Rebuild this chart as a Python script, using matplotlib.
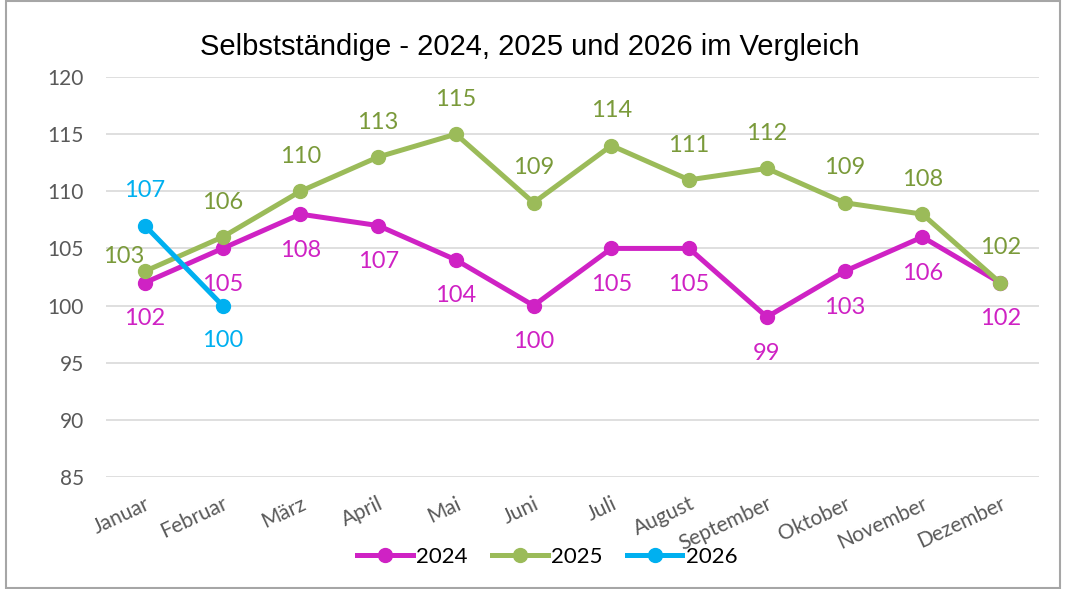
import matplotlib.pyplot as plt
import numpy as np

months = ["Januar", "Februar", "März", "April", "Mai", "Juni", "Juli",
          "August", "September", "Oktober", "November", "Dezember"]
v2024 = [102, 105, 108, 107, 104, 100, 105, 105, 99, 103, 106, 102]
v2025 = [103, 106, 110, 113, 115, 109, 114, 111, 112, 109, 108, 102]
v2026 = [107, 100]

c2024 = "#CF22C4"
c2025 = "#9BBB59"
c2026 = "#00B0F0"
lab2025 = "#7A9A3A"

plt.rcParams['font.family'] = ['Lato', 'DejaVu Sans']

fig = plt.figure(figsize=(10.73, 5.89), dpi=100)
ax = fig.add_axes([106 / 1073, 1 - 477 / 589, 933 / 1073, 400 / 589])

x = np.arange(len(months))
ax.plot(x, v2024, color=c2024, lw=3.6, marker='o', ms=10, label="2024", zorder=3)
ax.plot(x, v2025, color=c2025, lw=3.6, marker='o', ms=10, label="2025", zorder=3)
ax.plot(x[:len(v2026)], v2026, color=c2026, lw=3.6, marker='o', ms=10, label="2026", zorder=4)

fs = 17
for i, v in enumerate(v2024):
    ax.annotate(str(v), (i, v), xytext=(0, -26), textcoords='offset points',
                ha='center', va='center', color=c2024, fontsize=fs)
for i, v in enumerate(v2025):
    if i == 0:
        ax.annotate(str(v), (i, v), xytext=(-15, 11), textcoords='offset points',
                    ha='center', va='center', color=lab2025, fontsize=fs)
    else:
        ax.annotate(str(v), (i, v), xytext=(0, 25), textcoords='offset points',
                    ha='center', va='center', color=lab2025, fontsize=fs)
offs = [25, -25]
for i, v in enumerate(v2026):
    ax.annotate(str(v), (i, v), xytext=(0, offs[i]), textcoords='offset points',
                ha='center', va='center', color=c2026, fontsize=fs)

ax.set_xlim(-0.5, len(months) - 0.5)
ax.set_ylim(85, 120)
ax.set_yticks(range(85, 121, 5))
ax.set_xticks(x)
ax.set_xticklabels(months, rotation=25, ha='right', rotation_mode='anchor')
ax.tick_params(axis='both', length=0, colors='#595959', labelsize=15)
ax.tick_params(axis='x', pad=12)
ax.tick_params(axis='y', pad=16)
ax.grid(axis='y', color='#D9D9D9', lw=1.2)
ax.set_axisbelow(True)
for s in ax.spines.values():
    s.set_visible(False)

fig.text(0.494, 1 - 47 / 589, "Selbstständige - 2024, 2025 und 2026 im Vergleich",
         ha='center', va='center', fontsize=21, family='Liberation Sans')

fig.legend(loc='center', bbox_to_anchor=(0.51, 1 - 557 / 589), ncol=3, frameon=False,
           fontsize=16, handlelength=2.5, columnspacing=1.1, handletextpad=0.15)

fig.patches.append(plt.Rectangle((0.006, 0.002), 0.982, 0.996, transform=fig.transFigure,
                                 fill=False, edgecolor='#A6A6A6', lw=1.5))

fig.savefig("out.png", dpi=100)
